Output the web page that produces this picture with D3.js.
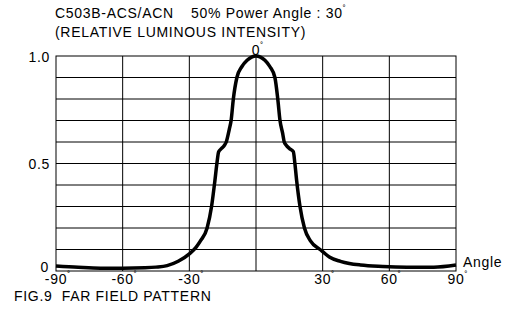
<!DOCTYPE html>
<html>
<head>
<meta charset="utf-8">
<script src="https://cdn.jsdelivr.net/npm/d3@7"></script>
<style>
  body { margin: 0; background: #fff; }
  svg text { font-family: "Liberation Sans", Arial, sans-serif; fill: #000; font-size: 14px; letter-spacing: 0.7px; }
</style>
</head>
<body>
<div id="chart"></div>
<script>
// far field pattern
var angles = [-90, -80, -70, -60, -50, -45, -40, -35, -30, -27, -25, -22, -20, -18.5, -17.6, -16.8, -15.5, -14.2, -13.4, -12, -11.2, -10.2, -8.6, -6.4, -4, -2, 0,
              2, 4, 6.3, 8.5, 9.8, 10.8, 12, 12.7, 13.6, 15, 16.8, 17.5, 18.3, 19.8, 21.8, 24.5, 28.8, 30, 33, 38, 42, 47, 55, 60, 70, 80, 90];
var intensity = [0.023, 0.017, 0.013, 0.013, 0.015, 0.018, 0.025, 0.045, 0.08, 0.11, 0.14, 0.2, 0.3, 0.42, 0.5, 0.555, 0.57, 0.585, 0.6, 0.66, 0.7, 0.8, 0.9, 0.95, 0.98, 0.995, 1.0,
                 0.995, 0.98, 0.95, 0.9, 0.8, 0.7, 0.64, 0.6, 0.585, 0.57, 0.555, 0.5, 0.42, 0.3, 0.2, 0.14, 0.1, 0.09, 0.065, 0.045, 0.035, 0.028, 0.022, 0.02, 0.018, 0.018, 0.028];
var xTicks = [-90, -60, -30, 0, 30, 60, 90];
var yLabels = ["0", "0.5", "1.0"];
var yGrid = [0.1, 0.2, 0.3, 0.4, 0.5, 0.6, 0.7, 0.8, 0.9];
var titleModel = "C503B-ACS/ACN";
var titleAngle = "50% Power Angle : 30";
var subTitle = "(RELATIVE LUMINOUS INTENSITY)";
var figText = "FIG.9  FAR FIELD PATTERN";

var w = 505, h = 316;
var pLeft = 56, pRight = 456, pTop = 56, pBottom = 271;

var svg = d3.select("#chart").append("svg")
    .attr("width", w)
    .attr("height", h);

var x = d3.scaleLinear().domain([-90, 90]).range([pLeft, pRight]);
var y = d3.scaleLinear().domain([0, 1]).range([pBottom, pTop]);

//grid
svg.selectAll(".hgrid").data(yGrid).enter().append("line")
    .attr("x1", pLeft).attr("x2", pRight)
    .attr("y1", d => y(d)).attr("y2", d => y(d))
    .attr("stroke", "#000").attr("stroke-width", 1);
svg.selectAll(".vgrid").data(xTicks.slice(1, -1)).enter().append("line")
    .attr("x1", d => x(d)).attr("x2", d => x(d))
    .attr("y1", pTop).attr("y2", pBottom)
    .attr("stroke", "#000").attr("stroke-width", 1);
svg.append("rect")
    .attr("x", pLeft).attr("y", pTop)
    .attr("width", pRight - pLeft).attr("height", pBottom - pTop)
    .attr("fill", "none").attr("stroke", "#000").attr("stroke-width", 1);

//curve
var pts = angles.map((a, i) => [a, intensity[i]]);
svg.append("path")
    .datum(pts)
    .attr("fill", "none")
    .attr("stroke", "#000")
    .attr("stroke-width", 3.5)
    .attr("stroke-linejoin", "round")
    .attr("d", d3.line().x(d => x(d[0])).y(d => y(d[1])).curve(d3.curveMonotoneX));

//small degree mark after a text
function deg(sel) {
    sel.append("tspan").style("font-size", "9px").attr("dy", "-6").text("˚");
}

//x tick labels, number centred on its gridline
xTicks.forEach(function(t) {
    var lbl = svg.append("text")
        .attr("y", t === 0 ? pTop - 1 : pBottom + 13);
    var num = lbl.append("tspan").text(t);
    deg(lbl);
    var len = num.node().getComputedTextLength();
    lbl.attr("x", x(t) - len / 2);
});

//y tick labels
svg.append("text").attr("x", pLeft - 6).attr("y", y(1) + 5.5).attr("text-anchor", "end").text(yLabels[2]);
svg.append("text").attr("x", pLeft - 6).attr("y", y(0.5) + 5.5).attr("text-anchor", "end").text(yLabels[1]);
svg.append("text").attr("x", pLeft - 7).attr("y", y(0) + 1).attr("text-anchor", "end").text(yLabels[0]);

svg.append("text").attr("x", pRight + 7).attr("y", pBottom - 4).text("Angle");

//titles
svg.append("text").attr("x", 55).attr("y", 18).text(titleModel);
var t1 = svg.append("text").attr("x", 191).attr("y", 18);
t1.append("tspan").text(titleAngle);
deg(t1);
svg.append("text").attr("x", 55).attr("y", 37).text(subTitle);
svg.append("text").attr("x", 14).attr("y", 301)
    .style("white-space", "pre").text(figText);
</script>
</body>
</html>
